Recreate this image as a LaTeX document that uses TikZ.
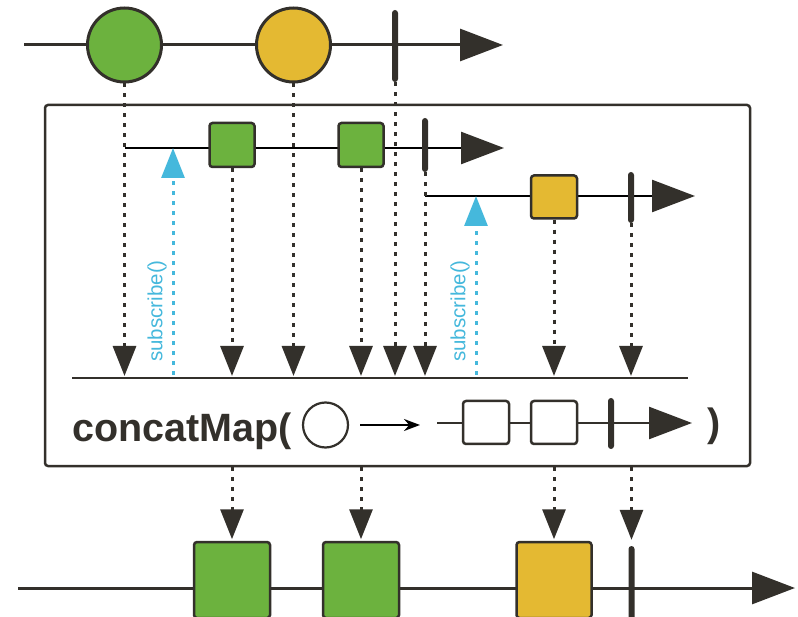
\documentclass[tikz,border=0pt]{standalone}
\usepackage{fontspec}
\setmainfont{Liberation Sans}
\usetikzlibrary{arrows.meta,shapes}
\definecolor{ink}{RGB}{51,48,43}
\definecolor{leaf}{RGB}{108,178,62}
\definecolor{gold}{RGB}{228,185,50}
\definecolor{sky}{RGB}{69,184,220}

\begin{document}
\begin{tikzpicture}
[x=1pt, y=-1pt,
  ball/.style={circle, draw=ink, line width=3pt, minimum size=74pt, inner sep=0pt},
  item/.style={rectangle, draw=ink, line width=2.5pt, rounded corners=3pt,
    minimum width=45pt, minimum height=44pt, inner sep=0pt},
  outitem/.style={item, minimum width=76pt, minimum height=76pt},
  donebar/.style={rectangle, fill=ink, rounded corners=3pt, minimum width=6pt, inner sep=0pt},
  timeline/.style={draw=ink, line width=3pt, -{Triangle[length=43pt,width=32pt]}},
  innerline/.style={draw=black, line width=2.5pt, -{Triangle[length=43pt,width=32pt,color=ink]}},
  emit/.style={draw=ink, line width=3pt, dash pattern=on 4pt off 6pt,
    -{Triangle[length=30pt,width=23pt]}},
  subscr/.style={emit, draw=sky},
  sublabel/.style={rotate=90, text=sky, inner sep=0pt, font=\fontsize{20.5}{20.5}\selectfont}]
  \useasboundingbox (0,0) rectangle (798,617);

  \coordinate (TopStart) at (24,45);
  \coordinate (TopEnd) at (503,45);
  \draw[timeline] (TopStart) -- (TopEnd);
  \node[ball, fill=leaf] (GreenBall) at (124.5,45) {};
  \node[ball, fill=gold] (YellowBall) at (293.5,45) {};
  \node[donebar, minimum height=72pt] (TopDone) at (395,46) {};

  \node[draw=ink, line width=2.5pt, rounded corners=3pt, minimum width=705pt,
    minimum height=361pt] (Operator) at (397.5,285.5) {};

  \coordinate (InnerAStart) at (124.5,148);
  \coordinate (InnerAEnd) at (504,148);
  \draw[innerline] (InnerAStart) -- (InnerAEnd);
  \node[item, fill=leaf] (GreenA) at (232,145) {};
  \node[item, fill=leaf] (GreenB) at (361,145) {};
  \node[donebar, minimum height=54pt] (InnerADone) at (425,145) {};

  \coordinate (InnerBStart) at (425,196);
  \coordinate (InnerBEnd) at (695,196);
  \draw[innerline] (InnerBStart) -- (InnerBEnd);
  \node[item, fill=gold, minimum width=46pt, minimum height=43pt] (YellowSq) at (554,197) {};
  \node[donebar, minimum height=51pt] (InnerBDone) at (631,197.5) {};

  \coordinate (MergeStart) at (72,378);
  \coordinate (MergeEnd) at (688,378);
  \draw[draw=ink, line width=2.5pt] (MergeStart) -- (MergeEnd);

  \coordinate (SubA) at (173,375);
  \coordinate (SubB) at (476,375);
  \draw[subscr] (SubA) -- (SubA |- InnerAStart);
  \draw[subscr] (SubB) -- (SubB |- InnerBStart);
  \node[sublabel] (SubLabelA) at (157,311) {subscribe()};
  \node[sublabel] (SubLabelB) at (460,311) {subscribe()};

  \draw[emit, shorten >=2pt] (GreenBall.south) -- (GreenBall.south |- MergeStart);
  \draw[emit, shorten >=2pt] (GreenA.south) -- (GreenA.south |- MergeStart);
  \draw[emit, shorten >=2pt] (YellowBall.south) -- (YellowBall.south |- MergeStart);
  \draw[emit, shorten >=2pt] (GreenB.south) -- (GreenB.south |- MergeStart);
  \draw[emit, shorten >=2pt] (TopDone.south) -- (TopDone.south |- MergeStart);
  \draw[emit, shorten >=2pt] (InnerADone.south) -- (InnerADone.south |- MergeStart);
  \draw[emit, shorten >=2pt] (YellowSq.south) -- (YellowSq.south |- MergeStart);
  \draw[emit, shorten >=2pt] (InnerBDone.south) -- (InnerBDone.south |- MergeStart);

  \node[anchor=base west, inner sep=0pt, text=ink,
    font=\bfseries\fontsize{39.5}{40}\selectfont] (OpName) at (72,442) {concatMap(};
  \node[circle, draw=ink, line width=2.2pt, minimum size=45pt, inner sep=0pt] (LegendBall) at (325.5,425) {};
  \coordinate (MapFrom) at (360,425);
  \coordinate (MapTo) at (420,425);
  \draw[line width=2pt, -{Stealth[length=16pt,width=12pt]}] (MapFrom) -- (MapTo);
  \coordinate (LegendStart) at (437,423);
  \coordinate (LegendEnd) at (692,423);
  \draw[timeline, line width=2.5pt] (LegendStart) -- (LegendEnd);
  \node[item, fill=white, minimum width=46pt, minimum height=43pt] (LegendA) at (486,422.5) {};
  \node[item, fill=white, minimum width=46pt, minimum height=43pt] (LegendB) at (554,422.5) {};
  \node[donebar, minimum height=51pt] (LegendDone) at (611,423.5) {};
  \node[anchor=base, inner sep=0pt, text=ink,
    font=\bfseries\fontsize{39.5}{40}\selectfont] (OpClose) at (714,436) {)};

  \coordinate (OutStart) at (18,588);
  \coordinate (OutEnd) at (795,588);
  \draw[timeline] (OutStart) -- (OutEnd);
  \node[outitem, fill=leaf] (OutGreenA) at (232,580) {};
  \node[outitem, fill=leaf] (OutGreenB) at (361,580) {};
  \node[outitem, fill=gold, minimum width=75pt] (OutYellow) at (554,580) {};
  \node[donebar, minimum height=88pt] (OutDone) at (631.5,590) {};

  \draw[emit, shorten >=1.5pt] (OutGreenA |- Operator.south) -- (OutGreenA.north);
  \draw[emit, shorten >=1.5pt] (OutGreenB |- Operator.south) -- (OutGreenB.north);
  \draw[emit, shorten >=1.5pt] (OutYellow |- Operator.south) -- (OutYellow.north);
  \draw[emit, shorten >=6pt] (OutDone |- Operator.south) -- (OutDone.north);
\end{tikzpicture}
\end{document}
